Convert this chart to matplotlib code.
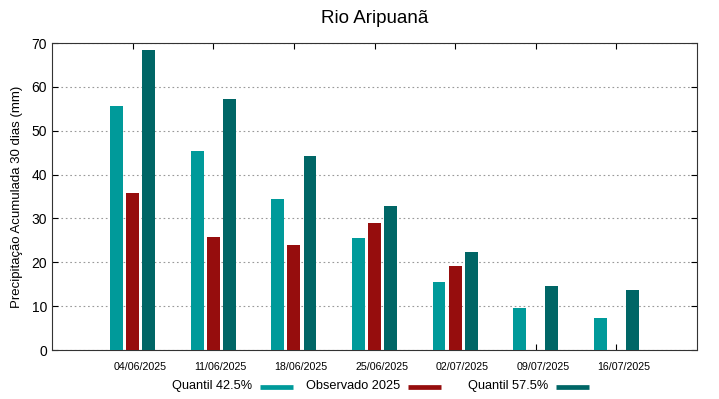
import numpy as np
import matplotlib.pyplot as plt
import matplotlib.transforms as mtransforms
from matplotlib.lines import Line2D

plt.rcParams['font.family'] = ['Liberation Sans', 'DejaVu Sans']

datas = ["04/06/2025", "11/06/2025", "18/06/2025", "25/06/2025",
         "02/07/2025", "09/07/2025", "16/07/2025"]
q425 = [55.6, 45.4, 34.4, 25.5, 15.5, 9.6, 7.2]
obs2025 = [35.8, 25.8, 23.9, 28.9, 19.1, np.nan, np.nan]
q575 = [68.3, 57.2, 44.2, 32.8, 22.3, 14.7, 13.75]
series_names = ["Quantil 42.5%", "Observado 2025", "Quantil 57.5%"]

c_q425 = "#009a9a"
c_obs = "#960d0d"
c_q575 = "#006666"

W, H = 719, 399
fig = plt.figure(figsize=(W/100, H/100), dpi=100)
ax = fig.add_axes([52/W, 1 - 350/H, (697-52)/W, (350-43)/H])

x = np.arange(len(datas))
w = 0.16
ax.bar(x - 0.2, q425, w, color=c_q425, zorder=3)
ax.bar(x, obs2025, w, color=c_obs, zorder=3)
ax.bar(x + 0.2, q575, w, color=c_q575, zorder=3)

ax.set_xlim(-1, 7)
ax.set_ylim(0, 70)
ax.set_yticks(range(0, 71, 10))
ax.set_xticks(x)
ax.set_xticklabels(datas, fontsize=7.7)
ax.tick_params(axis='y', labelsize=10, direction='in', right=True, length=4)
ax.tick_params(axis='x', direction='in', top=True, length=4, pad=9)
# labels in the original sit a little to the right of the ticks
off = mtransforms.ScaledTranslation(7/100, 0, fig.dpi_scale_trans)
for lb in ax.get_xticklabels():
    lb.set_transform(lb.get_transform() + off)

ax.yaxis.grid(True, linestyle=(0, (1.5, 2.5)), color="#999999", linewidth=0.8)
for s in ax.spines.values():
    s.set_color("#333333")

ax.set_ylabel("Precipitação Acumulada 30 dias (mm)", fontsize=9.5, labelpad=6)
fig.text(374.5/W, 1 - 23/H, "Rio Aripuanã", fontsize=13.5, ha='center', va='baseline')

# gnuplot style key: text then colour sample
key_text_end = [252, 400, 548]
key_sample = [(260, 293), (408, 441), (556, 589)]
for name, c, xe, (s0, s1) in zip(series_names, (c_q425, c_obs, c_q575),
                                 key_text_end, key_sample):
    fig.text(xe/W, 1 - 386/H, name, fontsize=9.2, ha='right', va='center')
    fig.add_artist(Line2D([s0/W, s1/W], [1 - 387/H, 1 - 387/H], color=c,
                          lw=3.4, solid_capstyle='butt', transform=fig.transFigure))

fig.savefig("out.png", dpi=100)
